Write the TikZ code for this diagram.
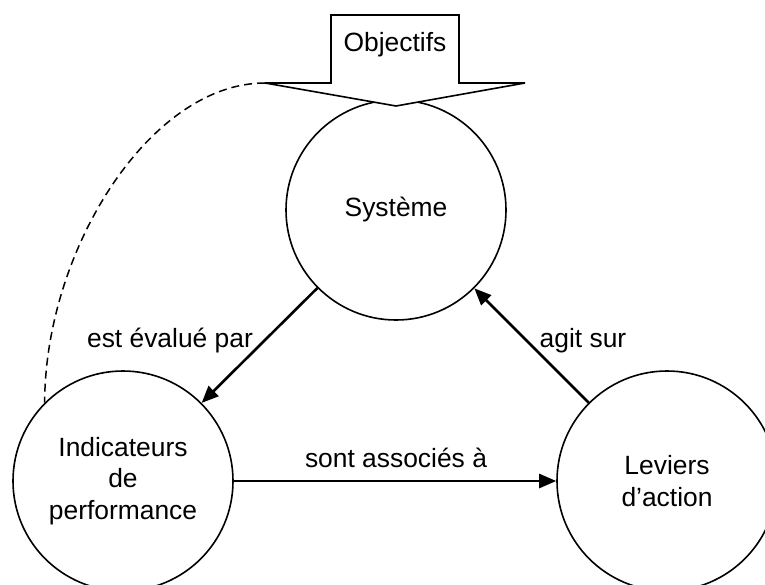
\documentclass[tikz,border=0pt]{standalone}
\usepackage{fontspec}
\setmainfont{Liberation Sans}
\usetikzlibrary{arrows.meta}
\begin{document}
\begin{tikzpicture}[x=1pt,y=-1pt,
  every node/.style={font=\fontsize{26.4}{31.5}\selectfont},
  pole/.style={circle,draw,line width=1.6pt,minimum size=220pt,inner sep=0pt,align=center},
  link/.style={line width=2.6pt,-{Triangle[length=17pt,width=14pt]}},
  lbl/.style={anchor=base,inner sep=0pt},
  banner/.style={draw,line width=1.6pt,fill=white,line join=miter}]
\useasboundingbox (0,0) rectangle (765,585);

% the three poles
\node[pole] (sys) at (396,210) {Système};
\node[pole] (ind) at (123,481) {Indicateurs\\de\\performance};
\node[pole] (lev) at (667,481) {Leviers\\d’action};

% relations between the poles
\draw[link] (sys) -- (ind);
\draw[link] (lev) -- (sys);
\draw[link] (ind) -- (lev);

\node[lbl] (l1) at (170,347) {est évalué par};
\node[lbl] (l2) at (583,347) {agit sur};
\node[lbl] (l3) at (396,467) {sont associés à};

% objectives block arrow pointing into the system
\draw[banner] (331,83) -- (331,15) -- (459,15) -- (459,83) -- (525,83)
  -- (396,106) -- (265,83) -- cycle;
\coordinate (objL) at (265,83);
\node[lbl] (obj) at (395,52) {Objectifs};

% feedback from the indicators to the objectives
\draw[line width=1.5pt,dash pattern=on 8pt off 5pt]
  (objL) .. controls (150,83) and (45,250) .. (ind.135);
\end{tikzpicture}
\end{document}
